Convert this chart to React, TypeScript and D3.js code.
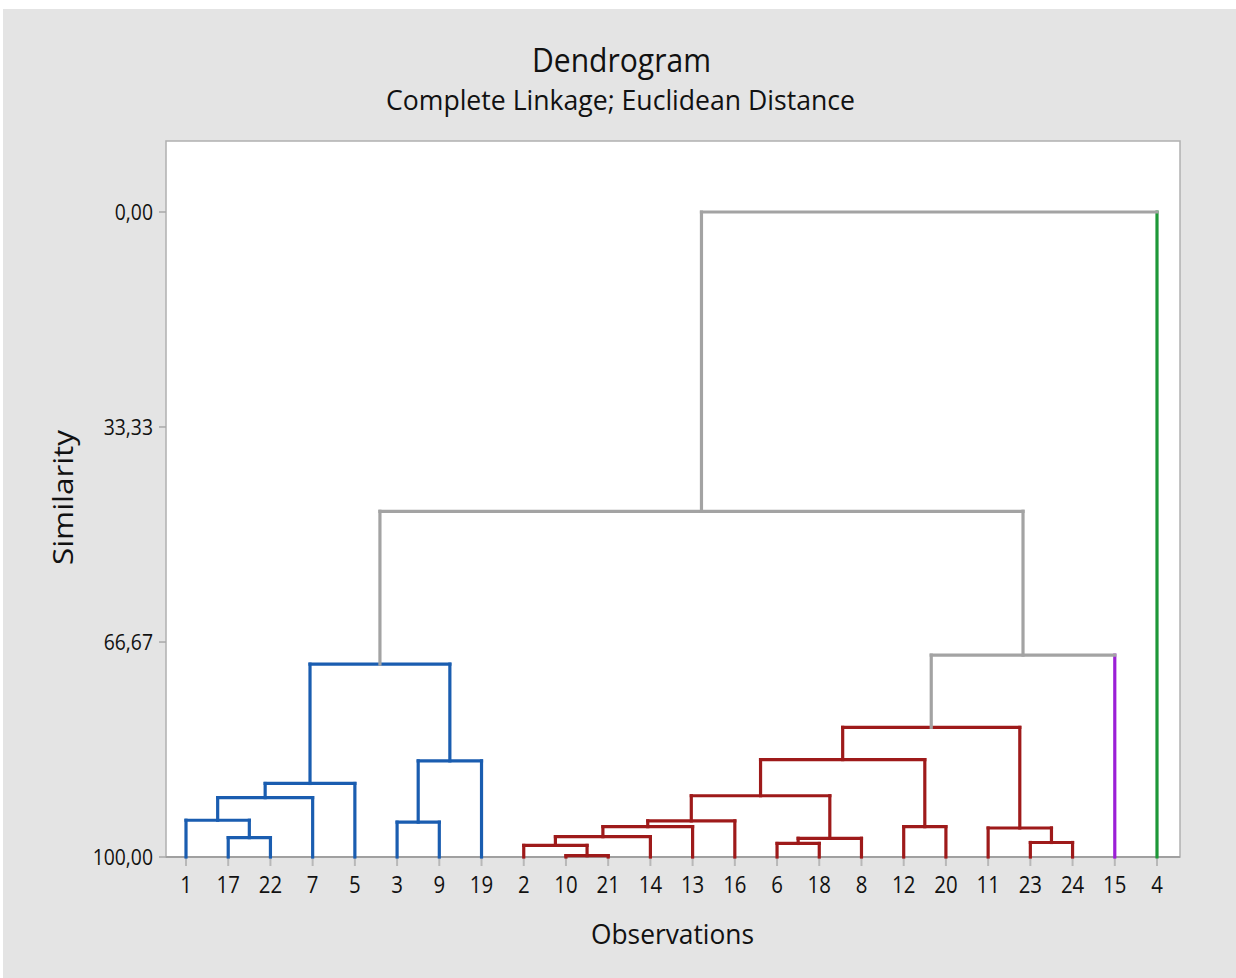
import React from "react";
import * as d3 from "d3";

const leafOrder = ["1","17","22","7","5","3","9","19","2","10","21","14","13","16","6","18","8","12","20","11","23","24","15","4"];

// merges: [id, childA, childB, similarity, cluster colour key]
const mergeIds = ["A1","A2","A3","A4","A5","A6","A7","B1","B2","B3","B4","B5","B6","B7","B8","B9","B10","B11","B12","B13","G1","G2","G3"];
const mergeLeft = ["17","1","A2","A3","3","A5","A4","10","2","B2","B3","B4","6","B6","B5","12","B8","23","11","B10","B13","A7","G2"];
const mergeRight = ["22","A1","7","5","9","19","A6","21","B1","14","13","16","18","8","B7","20","B9","24","B11","B12","15","G1","4"];
const mergeSimilarity = [97.0,94.3,90.8,88.6,94.6,85.1,70.1,99.8,98.2,96.85,95.3,94.4,97.9,97.1,90.5,95.3,84.9,97.75,95.5,79.9,68.7,46.4,0];
const mergeCluster = ["blue","blue","blue","blue","blue","blue","blue","red","red","red","red","red","red","red","red","red","red","red","red","red","grey","grey","grey"];
const singletonLeaves = ["15","4"];
const singletonCluster = ["purple","green"];

const yTicks = [0, 33.33, 66.67, 100];

const colors: Record<string, string> = {
  blue: "#1a5db0",
  red: "#9e1a1a",
  grey: "#a3a3a3",
  purple: "#9b1fd6",
  green: "#1e9838",
};

const W = 1236, H = 978;
const plot = { left: 166, top: 141, right: 1180, bottom: 857 };
const FONT = "'Open Sans', 'Noto Sans', sans-serif";

export default function App() {
  const x = d3.scalePoint<string>().domain(leafOrder).range([186, 1157]);
  const y = d3.scaleLinear().domain([0, 100]).range([212, 857]);

  const pos: Record<string, { x: number; s: number }> = {};
  leafOrder.forEach((l) => (pos[l] = { x: x(l)!, s: 100 }));
  const leafColor: Record<string, string> = {};
  singletonLeaves.forEach((l, i) => (leafColor[l] = colors[singletonCluster[i]]));

  const segs: { d: string; c: string }[] = [];
  mergeIds.forEach((id, i) => {
    const a = pos[mergeLeft[i]], b = pos[mergeRight[i]];
    const s = mergeSimilarity[i];
    const pc = colors[mergeCluster[i]];
    const ca = leafColor[mergeLeft[i]] ?? pc;
    const cb = leafColor[mergeRight[i]] ?? pc;
    segs.push({ d: `M${a.x},${y(a.s)}V${y(s)}`, c: ca });
    segs.push({ d: `M${b.x},${y(b.s)}V${y(s)}`, c: cb });
    segs.push({ d: `M${a.x},${y(s)}H${b.x}`, c: pc });
    pos[id] = { x: (a.x + b.x) / 2, s };
  });

  const fmt = (v: number) => v.toFixed(2).replace(".", ",");

  return (
    <svg width={W} height={H} style={{ position: "absolute", left: 0, top: 0 }} fontFamily={FONT}>
      <rect x={0} y={0} width={W} height={H} fill="#ffffff" />
      <rect x={3} y={9} width={W - 3} height={H - 9} fill="#e4e4e4" />
      <text x={621.5} y={72} textAnchor="middle" fontSize={33} fontWeight={500} textLength={179} lengthAdjust="spacingAndGlyphs" fill="#111">Dendrogram</text>
      <text x={620.5} y={110} textAnchor="middle" fontSize={28} textLength={469} lengthAdjust="spacingAndGlyphs" fill="#111">Complete Linkage; Euclidean Distance</text>

      <rect x={plot.left} y={plot.top} width={plot.right - plot.left} height={plot.bottom - plot.top} fill="#ffffff" stroke="#b0b0b0" strokeWidth={1.5} />
      <line x1={plot.left} x2={plot.right} y1={plot.bottom} y2={plot.bottom} stroke="#a0a0a0" strokeWidth={2} />

      {yTicks.map((t) => (
        <g key={t}>
          <line x1={plot.left - 7} x2={plot.left} y1={y(t)} y2={y(t)} stroke="#a8a8a8" strokeWidth={1.5} />
          <text transform={`translate(153,${y(t)}) scale(0.88,1)`} dy="0.36em" textAnchor="end" fontSize={22} fill="#111">{fmt(t)}</text>
        </g>
      ))}

      {leafOrder.map((l) => (
        <g key={l}>
          <line x1={x(l)} x2={x(l)} y1={plot.bottom} y2={plot.bottom + 9} stroke="#b8b8b8" strokeWidth={2} />
          <text transform={`translate(${x(l)},893) scale(0.85,1)`} textAnchor="middle" fontSize={24} fill="#111">{l}</text>
        </g>
      ))}

      {segs.map((s, i) => (
        <path key={i} d={s.d} stroke={s.c} strokeWidth={3.2} fill="none" strokeLinecap="square" />
      ))}

      <text x={672.5} y={944} textAnchor="middle" fontSize={28} textLength={163} lengthAdjust="spacingAndGlyphs" fill="#111">Observations</text>
      <text transform="translate(73,497.5) rotate(-90)" textAnchor="middle" fontSize={28} textLength={135} lengthAdjust="spacingAndGlyphs" fill="#111">Similarity</text>
    </svg>
  );
}
